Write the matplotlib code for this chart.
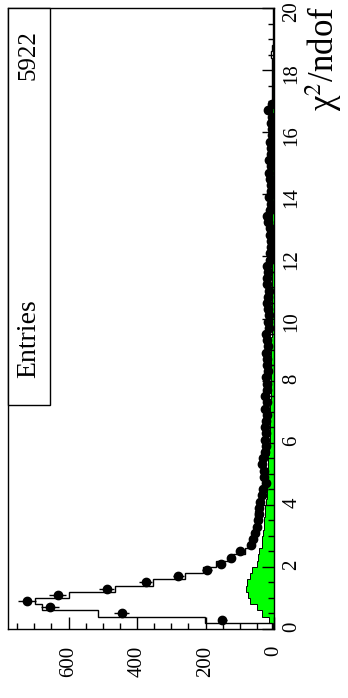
import matplotlib.pyplot as plt
from matplotlib.patches import Rectangle
import numpy as np

plt.rcParams['font.family'] = ['Liberation Serif', 'DejaVu Serif']
plt.rcParams['mathtext.fontset'] = 'stix'

# chi2/ndof binning: 100 bins of 0.2 from 0 to 20
BIN_EDGES = np.linspace(0, 20, 101)

# data counts per bin
data_counts = np.array([
    0, 151, 445, 654, 722, 632, 488, 375, 279, 196,
    156, 125, 99, 67, 62, 55, 51, 46, 43, 43,
    41, 34, 31, 23, 30, 28, 34, 31, 26, 24,
    25, 22, 27, 24, 21, 26, 20, 27, 19, 20,
    23, 18, 21, 19, 23, 17, 20, 23, 16, 17,
    15, 17, 21, 17, 14, 21, 19, 18, 21, 13,
    12, 10, 9, 11, 12, 17, 21, 13, 10, 14,
    9, 8, 11, 14, 9, 14, 10, 8, 12, 7,
    6, 8, 5, 17, 6, 0, 0, 0, 0, 0,
    0, 0, 0, 0, 0, 0, 0, 0, 0, 0,
])

# simulation (normalised), drawn as outline
mc_counts = np.array([
    7, 202, 515, 677, 698, 600, 464, 352, 260, 207,
    169, 120, 85, 72, 60, 55, 45, 40, 55, 38,
    36, 33, 30, 28, 27, 27, 25, 25, 24, 23,
    23, 22, 22, 21, 21, 20, 20, 19, 19, 18,
    18, 18, 17, 17, 16, 16, 16, 15, 15, 15,
    14, 14, 14, 13, 13, 13, 13, 12, 12, 12,
    11, 11, 15, 11, 10, 10, 10, 14, 9, 9,
    9, 9, 13, 8, 8, 8, 8, 7, 7, 7,
    7, 7, 6, 6, 6, 6, 6, 5, 5, 5,
    5, 5, 10, 5, 4, 4, 4, 4, 4, 4,
])

# background component (filled green)
bkg_counts = np.array([
    4, 15, 36, 50, 70, 76, 82, 79, 70, 65,
    51, 48, 44, 36, 36, 33, 29, 28, 27, 26,
    22, 21, 21, 20, 20, 18, 18, 17, 14, 14,
    13, 13, 12, 12, 12, 11, 11, 10, 10, 10,
    9, 9, 9, 8, 9, 8, 8, 7, 8, 7,
    7, 7, 6, 7, 6, 6, 7, 6, 6, 6,
    6, 5, 6, 6, 5, 5, 6, 5, 5, 5,
    5, 5, 4, 5, 5, 4, 5, 4, 4, 5,
    4, 4, 4, 5, 4, 4, 4, 3, 4, 4,
    4, 3, 4, 4, 3, 4, 3, 3, 4, 3,
])

ENTRIES = 5922
COUNT_TICKS = [0, 200, 400, 600]
CHI2_TICKS = [0, 2, 4, 6, 8, 10, 12, 14, 16, 18, 20]

W, H = 348, 698
fig = plt.figure(figsize=(W / 100, H / 100), dpi=100)
ax = fig.add_axes([8 / W, 69 / H, 266 / W, 621 / H])

centers = 0.5 * (BIN_EDGES[:-1] + BIN_EDGES[1:])

# histograms, rotated: counts along x (reversed), chi2 along y
ax.stairs(bkg_counts, BIN_EDGES, orientation='horizontal', fill=True,
          facecolor='#00ff00', edgecolor='black', linewidth=0.7)
ax.stairs(mc_counts, BIN_EDGES, orientation='horizontal', color='black', linewidth=1.0)

mask = data_counts > 0
ax.errorbar(data_counts[mask], centers[mask], xerr=np.sqrt(data_counts[mask]),
            fmt='o', color='black', ms=6, elinewidth=1.0, capsize=0)

ax.set_xlim(777, 0)
ax.set_ylim(0, 20)

ax.set_xticks(COUNT_TICKS)
ax.set_xticks(np.arange(0, 777, 50), minor=True)
ax.yaxis.tick_right()
ax.set_yticks(CHI2_TICKS)
ax.set_yticks(np.arange(0, 20.01, 0.5), minor=True)

ax.tick_params(which='both', direction='in', top=False, left=False, labelsize=15, width=1)
ax.tick_params(which='major', length=8.5)
ax.tick_params(which='minor', length=4.3)
ax.tick_params(axis='x', labelrotation=90, pad=12)
ax.tick_params(axis='y', labelrotation=90, pad=6)

for sp in ax.spines.values():
    sp.set_linewidth(1.0)

# stats box
fig.add_artist(Rectangle((8 / W, (H - 405) / H), 42 / W, 397 / H, transform=fig.transFigure,
                         facecolor='white', edgecolor='black', linewidth=1.0, zorder=5))
fig.text(29 / W, (H - 378) / H, 'Entries', rotation=90, ha='center', va='bottom',
         fontsize=20, zorder=6)
fig.text(29 / W, (H - 30) / H, f'{ENTRIES}', rotation=90, ha='center', va='top',
         fontsize=18, zorder=6)

# axis title
fig.text(324 / W, (H - 6) / H, 'χ$^{2}$/ndof', rotation=90, ha='center', va='top',
         fontsize=25)

plt.savefig('out.png', dpi=100)
